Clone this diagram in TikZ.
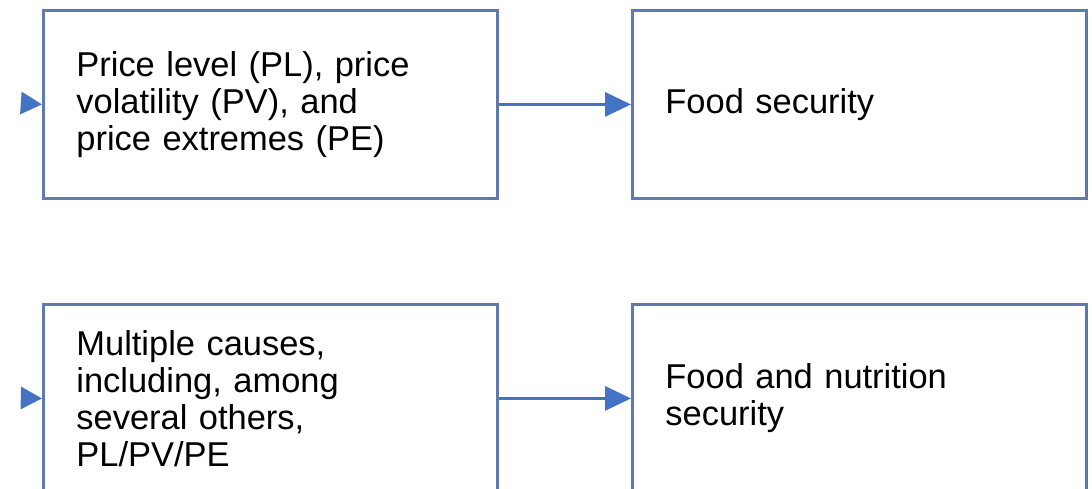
\documentclass[tikz,border=0pt]{standalone}
\usepackage{fontspec}
\setmainfont{Liberation Sans}
\usepackage{tikz}
\usetikzlibrary{arrows.meta,positioning}
\definecolor{boxblue}{RGB}{98,120,178}
\definecolor{arrowblue}{RGB}{68,114,196}

\begin{document}
\begin{tikzpicture}[x=0.025cm,y=-0.025cm,
    box/.style={draw=boxblue,line width=2pt,minimum width=11.35cm,minimum height=4.7cm,
        text width=9.7cm,align=left,inner xsep=0.8cm,anchor=north west,
        font=\fontsize{24.5}{26.3}\selectfont},
    link/.style={draw=arrowblue,line width=2.2pt,-{Triangle[length=0.65cm,width=0.6cm]}},
    stub/.style={draw=arrowblue,line width=2.2pt,-{Triangle[length=0.53cm,width=0.55cm]}}]
        \useasboundingbox (0,0) rectangle (1092,488);
        \clip (0,0) rectangle (1092,488);
        \node[box] (price) at (42,9) {Price level (PL), price\\volatility (PV), and\\price extremes (PE)};
        \node[box] (foodsec) at (631,9) {Food security};
        \node[box] (causes) at (42,303) {Multiple causes,\\including, among\\several others,\\PL/PV/PE};
        \node[box] (foodnut) at (631,303) {Food and nutrition\\security};
        \coordinate (inA) at (21,103);
        \coordinate (inB) at (21,398);
        \draw[stub] (inA) -- (price.west);
        \draw[stub] (inB) -- (causes.west);
        \draw[link] (price) -- (foodsec);
        \draw[link] (causes) -- (foodnut);
\end{tikzpicture}
\end{document}
